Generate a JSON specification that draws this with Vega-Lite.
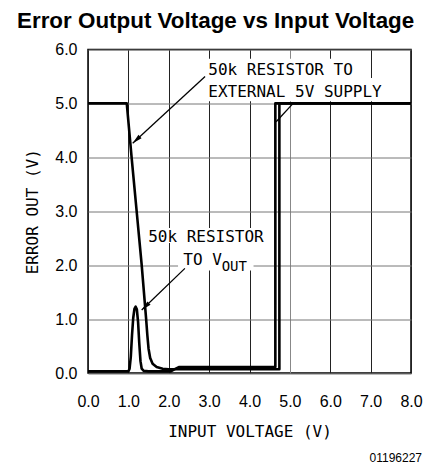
{
  "$schema": "https://vega.github.io/schema/vega-lite/v6.json",
  "width": 323,
  "height": 323.5,
  "autosize": {"type": "none"},
  "padding": {"left": 88, "top": 49.5, "right": 21, "bottom": 94},
  "background": "white",
  "title": {
    "text": "Error Output Voltage vs Input Voltage",
    "font": "Liberation Sans",
    "fontSize": 22.4,
    "fontWeight": "bold",
    "color": "black",
    "anchor": "start",
    "frame": "group",
    "dx": -71,
    "offset": 9
  },
  "config": {
    "view": {"stroke": "black", "strokeWidth": 1.5},
    "axisX": {
      "labelFont": "Liberation Sans", "labelFontSize": 16, "labelColor": "black",
      "labelPadding": 20, "ticks": false, "tickSize": 0, "domain": false,
      "grid": true, "gridColor": "#222", "gridOpacity": 1, "gridWidth": 1,
      "titleFont": "DejaVu Sans Mono", "titleFontSize": 16, "titleFontWeight": "normal",
      "titleColor": "black", "titlePadding": 14, "labelFlush": false, "labelOverlap": false
    },
    "axisY": {
      "labelFont": "Liberation Sans", "labelFontSize": 16, "labelColor": "black",
      "labelPadding": 11, "ticks": false, "tickSize": 0, "domain": false,
      "grid": true, "gridColor": "#777", "gridOpacity": 1, "gridWidth": 1,
      "titleFont": "DejaVu Sans Mono", "titleFontSize": 16, "titleFontWeight": "normal",
      "titleColor": "black", "titlePadding": 14, "labelFlush": false, "labelOverlap": false
    }
  },
  "datasets": {
    "boxes": [
      {"x": 2.88, "x2": 6.75, "y": 5.47, "y2": 5.83},
      {"x": 2.88, "x2": 7.55, "y": 5.04, "y2": 5.47},
      {"x": 1.41, "x2": 4.46, "y": 2.41, "y2": 2.69},
      {"x": 2.23, "x2": 4.1, "y": 1.9, "y2": 2.41}
    ],
    "curves": [
      {"s": "ext", "i": 0, "x": 0, "y": 5.0},
      {"s": "ext", "i": 1, "x": 0.96, "y": 5.0},
      {"s": "ext", "i": 2, "x": 1.08, "y": 4.0},
      {"s": "ext", "i": 3, "x": 1.205, "y": 3.0},
      {"s": "ext", "i": 4, "x": 1.33, "y": 2.0},
      {"s": "ext", "i": 5, "x": 1.44, "y": 1.0},
      {"s": "ext", "i": 6, "x": 1.47, "y": 0.7},
      {"s": "ext", "i": 7, "x": 1.5, "y": 0.45},
      {"s": "ext", "i": 8, "x": 1.54, "y": 0.28},
      {"s": "ext", "i": 9, "x": 1.6, "y": 0.17},
      {"s": "ext", "i": 10, "x": 1.7, "y": 0.11},
      {"s": "ext", "i": 11, "x": 1.85, "y": 0.08},
      {"s": "ext", "i": 12, "x": 2.0, "y": 0.07},
      {"s": "ext", "i": 13, "x": 4.74, "y": 0.07},
      {"s": "ext", "i": 14, "x": 4.74, "y": 5.0},
      {"s": "ext", "i": 15, "x": 8.0, "y": 5.0},
      {"s": "vout", "i": 0, "x": 0, "y": 0.03},
      {"s": "vout", "i": 1, "x": 1.0, "y": 0.03},
      {"s": "vout", "i": 2, "x": 1.03, "y": 0.08},
      {"s": "vout", "i": 3, "x": 1.06, "y": 0.3},
      {"s": "vout", "i": 4, "x": 1.09, "y": 0.7},
      {"s": "vout", "i": 5, "x": 1.12, "y": 1.02},
      {"s": "vout", "i": 6, "x": 1.15, "y": 1.19},
      {"s": "vout", "i": 7, "x": 1.18, "y": 1.23},
      {"s": "vout", "i": 8, "x": 1.21, "y": 1.18},
      {"s": "vout", "i": 9, "x": 1.24, "y": 0.95},
      {"s": "vout", "i": 10, "x": 1.27, "y": 0.55},
      {"s": "vout", "i": 11, "x": 1.3, "y": 0.22},
      {"s": "vout", "i": 12, "x": 1.33, "y": 0.08},
      {"s": "vout", "i": 13, "x": 1.38, "y": 0.04},
      {"s": "vout", "i": 14, "x": 1.5, "y": 0.03},
      {"s": "vout", "i": 15, "x": 2.05, "y": 0.03},
      {"s": "vout", "i": 16, "x": 2.15, "y": 0.07},
      {"s": "vout", "i": 17, "x": 2.25, "y": 0.11},
      {"s": "vout", "i": 18, "x": 4.64, "y": 0.11},
      {"s": "vout", "i": 19, "x": 4.64, "y": 5.0},
      {"s": "vout", "i": 20, "x": 8.0, "y": 5.0}
    ],
    "leaders": [
      {"x": 2.9, "y": 5.5, "x2": 1.107, "y2": 4.26},
      {"x": 4.66, "y": 4.66, "x2": 5.08, "y2": 5.0},
      {"x": 2.4, "y": 1.94, "x2": 1.33, "y2": 1.17}
    ],
    "heads": [
      {"x": 1.107, "y": 4.26},
      {"x": 1.33, "y": 1.17}
    ],
    "notes": [
      {"x": 2.98, "y": 5.53, "t": "50k RESISTOR TO"},
      {"x": 2.98, "y": 5.12, "t": "EXTERNAL 5V SUPPLY"},
      {"x": 1.49, "y": 2.43, "t": "50k RESISTOR"},
      {"x": 2.36, "y": 2.0, "t": "TO V"}
    ],
    "subs": [
      {"x": 3.31, "y": 1.89, "t": "OUT"}
    ],
    "footer": [
      {"t": "01196227"}
    ]
  },
  "layer": [
    {
      "data": {"name": "boxes"},
      "mark": {"type": "rect", "fill": "white", "stroke": null},
      "encoding": {
        "x": {"field": "x", "type": "quantitative", "scale": {"domain": [0, 8], "nice": false, "zero": false},
              "axis": {"values": [0, 1, 2, 3, 4, 5, 6, 7, 8], "format": ".1f",
                       "gridColor": {"condition": {"test": "datum.value == 5", "value": "#888"}, "value": "#222"}},
              "title": "INPUT VOLTAGE (V)"},
        "x2": {"field": "x2"},
        "y": {"field": "y", "type": "quantitative", "scale": {"domain": [0, 6], "nice": false, "zero": false},
              "axis": {"values": [0, 1, 2, 3, 4, 5, 6], "format": ".1f"},
              "title": "ERROR OUT (V)"},
        "y2": {"field": "y2"}
      }
    },
    {
      "data": {"name": "curves"},
      "mark": {"type": "line", "color": "black", "strokeWidth": 2.6, "strokeJoin": "round"},
      "encoding": {
        "x": {"field": "x", "type": "quantitative", "title": "INPUT VOLTAGE (V)"},
        "y": {"field": "y", "type": "quantitative", "title": "ERROR OUT (V)"},
        "detail": {"field": "s"},
        "order": {"field": "i", "type": "quantitative"}
      }
    },
    {
      "data": {"name": "leaders"},
      "mark": {"type": "rule", "color": "black", "strokeWidth": 1.3},
      "encoding": {
        "x": {"field": "x", "type": "quantitative", "title": "INPUT VOLTAGE (V)"},
        "y": {"field": "y", "type": "quantitative", "title": "ERROR OUT (V)"},
        "x2": {"field": "x2"},
        "y2": {"field": "y2"}
      }
    },
    {
      "data": {"name": "heads"},
      "mark": {"type": "point", "shape": "M0,0L0.45,2L-0.45,2Z", "filled": true, "size": 100, "angle": 227, "color": "black", "opacity": 1},
      "encoding": {
        "x": {"field": "x", "type": "quantitative", "title": "INPUT VOLTAGE (V)"},
        "y": {"field": "y", "type": "quantitative", "title": "ERROR OUT (V)"}
      }
    },
    {
      "data": {"name": "notes"},
      "mark": {"type": "text", "align": "left", "baseline": "alphabetic", "font": "DejaVu Sans Mono", "fontSize": 16, "color": "black"},
      "encoding": {
        "x": {"field": "x", "type": "quantitative", "title": "INPUT VOLTAGE (V)"},
        "y": {"field": "y", "type": "quantitative", "title": "ERROR OUT (V)"},
        "text": {"field": "t"}
      }
    },
    {
      "data": {"name": "subs"},
      "mark": {"type": "text", "align": "left", "baseline": "alphabetic", "font": "DejaVu Sans Mono", "fontSize": 14, "color": "black"},
      "encoding": {
        "x": {"field": "x", "type": "quantitative", "title": "INPUT VOLTAGE (V)"},
        "y": {"field": "y", "type": "quantitative", "title": "ERROR OUT (V)"},
        "text": {"field": "t"}
      }
    },
    {
      "data": {"name": "footer"},
      "mark": {"type": "text", "align": "right", "baseline": "alphabetic", "font": "Liberation Sans", "fontSize": 12, "color": "black", "dx": 11, "dy": 89},
      "encoding": {
        "x": {"datum": 8, "type": "quantitative"},
        "y": {"datum": 0, "type": "quantitative"},
        "text": {"field": "t"}
      }
    }
  ]
}
